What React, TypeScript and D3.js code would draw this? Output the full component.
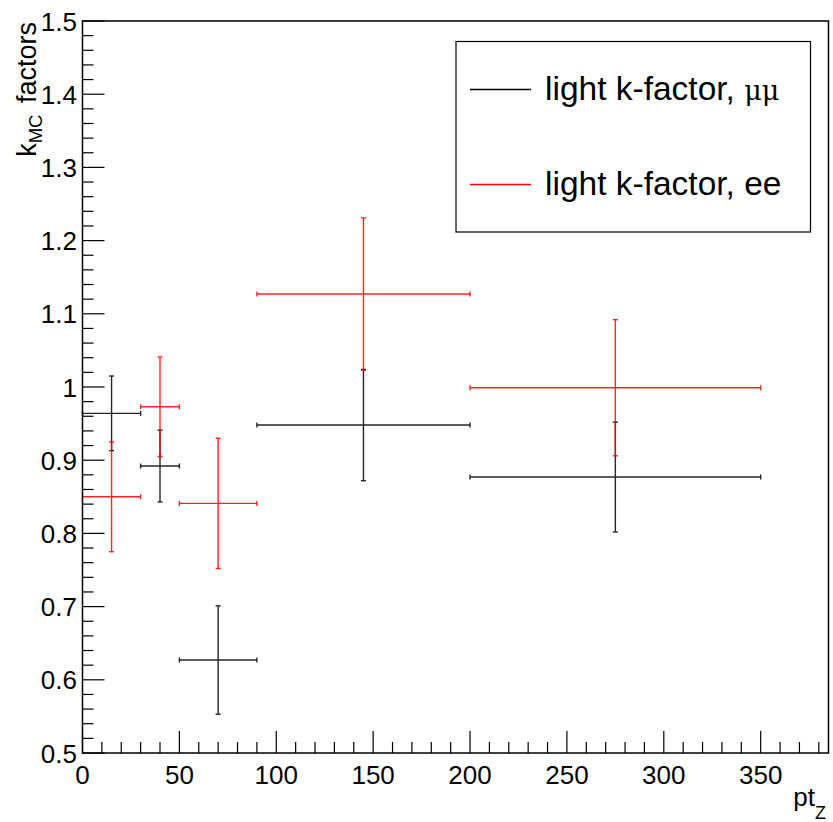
import React from "react";
import * as d3 from "d3";

const binLow = [0, 30, 50, 90, 200];
const binHigh = [30, 50, 90, 200, 350];
const binCenter = [15, 40, 70, 145, 275];
const mumuValues = [0.964, 0.892, 0.627, 0.948, 0.877];
const mumuErrors = [0.051, 0.049, 0.074, 0.076, 0.075];
const eeValues = [0.85, 0.973, 0.841, 1.127, 0.999];
const eeErrors = [0.075, 0.068, 0.089, 0.104, 0.093];
const seriesNames = ["light k-factor, ", "light k-factor, ee"];
const seriesColors = ["#000000", "#ff0000"];
const xTicks = [0, 50, 100, 150, 200, 250, 300, 350];
const yTicks = [0.5, 0.6, 0.7, 0.8, 0.9, 1, 1.1, 1.2, 1.3, 1.4, 1.5];

const W = 833, H = 822;
const L = 82.5, R = 828.5, T = 21, B = 753;
const FONT = "'Liberation Sans', Arial, Helvetica, sans-serif";

export default function App() {
  const x = d3.scaleLinear().domain([0, 385]).range([L, R]);
  const y = d3.scaleLinear().domain([0.5, 1.5]).range([B, T]);
  const xMinor = d3.range(0, 386, 10);
  const yMinor = d3.range(0.5, 1.5001, 0.02);
  const cap = 2.5;

  const series = [
    { vals: mumuValues, errs: mumuErrors, color: seriesColors[0] },
    { vals: eeValues, errs: eeErrors, color: seriesColors[1] },
  ];

  return (
    <svg width={W} height={H} style={{ position: "absolute", left: 0, top: 0, background: "#fff" }} fontFamily={FONT}>
      <rect x={0} y={0} width={W} height={H} fill="#fff" />
      {/* minor ticks */}
      {xMinor.map((v) => (
        <line key={"xm" + v} x1={x(v)} x2={x(v)} y1={B} y2={B - (v % 50 === 0 ? 22 : 11)} stroke="#000" strokeWidth={1.2} />
      ))}
      {yMinor.map((v, i) => (
        <line key={"ym" + i} x1={L} x2={L + (i % 5 === 0 ? 22 : 11)} y1={y(v)} y2={y(v)} stroke="#000" strokeWidth={1.2} />
      ))}
      {/* tick labels */}
      {xTicks.map((v) => (
        <text key={"xt" + v} x={x(v)} y={784} textAnchor="middle" fontSize={26}>{v}</text>
      ))}
      {yTicks.map((v) => (
        <text key={"yt" + v} x={77} y={y(v) + 9.5} textAnchor="end" fontSize={26}>{v === 1 ? "1" : v.toFixed(1)}</text>
      ))}
      {/* axis titles */}
      <text transform={`translate(36,${T + 1}) rotate(-90)`} textAnchor="end" fontSize={27}>
        k<tspan fontSize={18.5} dy={6}>MC</tspan><tspan dy={-6} dx={4}> factors</tspan>
      </text>
      <text x={815} y={806} textAnchor="end" fontSize={26}>pt</text>
      <text x={815} y={819} fontSize={18}>Z</text>
      {/* data */}
      {series.map((s, si) => (
        <g key={"s" + si} stroke={s.color} strokeWidth={1.4} opacity={0.85}>
          {s.vals.map((v, i) => {
            const cx = x(binCenter[i]);
            const cy = y(v);
            const x0 = x(binLow[i]);
            const x1 = x(binHigh[i]);
            const yt = y(v + s.errs[i]);
            const yb = y(v - s.errs[i]);
            return (
              <g key={i}>
                <line x1={x0} x2={x1} y1={cy} y2={cy} />
                <line x1={x0} x2={x0} y1={cy - cap} y2={cy + cap} />
                <line x1={x1} x2={x1} y1={cy - cap} y2={cy + cap} />
                <line x1={cx} x2={cx} y1={yt} y2={yb} />
                <line x1={cx - cap} x2={cx + cap} y1={yt} y2={yt} />
                <line x1={cx - cap} x2={cx + cap} y1={yb} y2={yb} />
              </g>
            );
          })}
        </g>
      ))}
      {/* frame */}
      <rect x={L} y={T} width={R - L} height={B - T} fill="none" stroke="#000" strokeWidth={1.5} />
      {/* legend */}
      <rect x={456} y={41.5} width={354.5} height={190.5} fill="#fff" stroke="#000" strokeWidth={1.2} />
      <line x1={470} x2={531} y1={89.5} y2={89.5} stroke={seriesColors[0]} strokeWidth={1.4} />
      <text x={545} y={100} fontSize={33.5}>
        {seriesNames[0]}<tspan fontFamily="'DejaVu Serif', serif" fontSize={27}>μμ</tspan>
      </text>
      <line x1={470} x2={531} y1={184.5} y2={184.5} stroke={seriesColors[1]} strokeWidth={1.4} />
      <text x={545} y={195} fontSize={33.5}>{seriesNames[1]}</text>
    </svg>
  );
}
